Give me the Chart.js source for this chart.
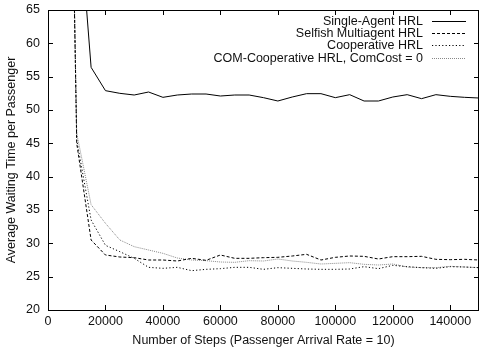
<!DOCTYPE html>
<html><head><meta charset="utf-8">
<script src="https://cdn.jsdelivr.net/npm/chart.js@4.4.1/dist/chart.umd.min.js"></script>
<style>html,body{margin:0;padding:0;background:#fff}#wrap{width:480px;height:354px}</style>
</head><body><div id="wrap"><canvas id="c" width="480" height="354"></canvas></div>
<script>
const steps = [5000,10000,15000,20000,25000,30000,35000,40000,45000,50000,55000,60000,65000,70000,75000,80000,85000,90000,95000,100000,105000,110000,115000,120000,125000,130000,135000,140000,145000,150000];
const singleAgent = [200,84,56.4,52.9,52.5,52.25,52.7,51.9,52.25,52.4,52.4,52.1,52.25,52.25,51.85,51.35,51.95,52.45,52.45,51.85,52.3,51.35,51.35,51.95,52.3,51.7,52.3,52.05,51.9,51.8];
const selfish = [170,45,30.5,28.25,27.95,27.85,27.5,27.5,27.35,27.75,27.45,28.25,27.75,27.75,27.85,27.9,28.1,28.35,27.5,27.9,28.1,28.05,27.65,28.0,28.0,28.05,27.6,27.55,27.6,27.5];
const cooperative = [170,45.5,33.5,29.7,28.75,27.75,26.4,26.25,26.4,25.9,26.1,26.2,26.4,26.4,26.1,26.35,26.25,26.15,26.1,26.1,26.15,26.5,26.2,26.7,26.5,26.35,26.25,26.5,26.45,26.35];
const comCoop = [170,46.5,35.8,33.0,30.5,29.5,29.0,28.5,27.8,27.5,27.4,27.2,27.15,27.4,27.35,27.65,27.35,27.15,26.9,27.0,27.1,26.85,26.75,26.9,26.45,26.35,26.35,26.55,26.45,26.35];
const xTicks = [0,20000,40000,60000,80000,100000,120000,140000];
const yTicks = [20,25,30,35,40,45,50,55,60,65];
const seriesLabels = ["Single-Agent HRL","Selfish Multiagent HRL","Cooperative HRL","COM-Cooperative HRL, ComCost = 0"];
const xTitle = "Number of Steps (Passenger Arrival Rate = 10)";
const yTitle = "Average Waiting Time per Passenger";

const FONT = {family:"'Liberation Sans', Arial, Helvetica, sans-serif", size:12.5};
const styles = [
  {color:'#000', dash:[]},
  {color:'#000', dash:[3,2]},
  {color:'#000', dash:[1.2,2.2]},
  {color:'#888', dash:[1,1]}
];
const allSeries = [singleAgent, selfish, cooperative, comCoop];
const datasets = allSeries.map((arr,i)=>({
  label: seriesLabels[i],
  data: arr.map((v,j)=>({x:steps[j], y:v})),
  borderColor: styles[i].color,
  borderDash: styles[i].dash,
  borderWidth: 1,
  pointRadius: 0,
  tension: 0,
  fill: false
}));

const framePlugin = {
  id:'frame',
  afterDatasetsDraw(chart){
    const {ctx, chartArea:a, scales:{x,y}} = chart;
    ctx.save();
    ctx.strokeStyle='#000'; ctx.lineWidth=1; ctx.setLineDash([]);
    ctx.beginPath();
    ctx.rect(Math.round(a.left)+0.5, Math.round(a.top)+0.5, Math.round(a.right-a.left)-1, Math.round(a.bottom-a.top));
    ctx.stroke();
    const L=5;
    ctx.beginPath();
    x.ticks.forEach(t=>{
      const px=Math.round(x.getPixelForValue(t.value))+0.5;
      ctx.moveTo(px,a.bottom); ctx.lineTo(px,a.bottom-L);
      ctx.moveTo(px,a.top); ctx.lineTo(px,a.top+L);
    });
    y.ticks.forEach(t=>{
      const py=Math.round(y.getPixelForValue(t.value))+0.5;
      ctx.moveTo(a.left,py); ctx.lineTo(a.left+L,py);
      ctx.moveTo(a.right,py); ctx.lineTo(a.right-L,py);
    });
    ctx.stroke();
    // legend
    ctx.font = FONT.size+"px "+FONT.family;
    ctx.fillStyle='#111';
    ctx.textAlign='right'; ctx.textBaseline='middle';
    const rowsY=[20.7,33.1,45.4,57.8];
    chart.data.datasets.forEach((d,i)=>{
      const yy=rowsY[i];
      ctx.fillText(d.label, 423, yy+0.5);
      ctx.beginPath();
      ctx.strokeStyle=d.borderColor; ctx.setLineDash(d.borderDash);
      ctx.moveTo(432, Math.round(yy)+0.5); ctx.lineTo(466, Math.round(yy)+0.5);
      ctx.stroke();
    });
    ctx.restore();
  }
};

new Chart(document.getElementById('c'), {
  type:'line',
  data:{datasets},
  options:{
    responsive:false, animation:false,
    layout:{padding:{top:10,right:1,left:0,bottom:0}},
    plugins:{legend:{display:false}, tooltip:{enabled:false}},
    scales:{
      x:{type:'linear', min:0, max:150000,
        afterBuildTicks(s){ s.ticks = xTicks.map(v=>({value:v})); },
        afterFit(s){ s.height=44; s.paddingLeft=0; s.paddingRight=0; },
        grid:{display:false, drawTicks:false}, border:{display:false},
        ticks:{autoSkip:false, maxRotation:0, minRotation:0, padding:4.5, color:'#111', font:FONT, callback:v=>String(v)},
        title:{display:true, text:xTitle, color:'#111', font:FONT, padding:{top:0,bottom:5.5}}
      },
      y:{type:'linear', min:20, max:65,
        afterBuildTicks(s){ s.ticks = yTicks.map(v=>({value:v})); },
        afterFit(s){ s.width=48; s.paddingTop=0; s.paddingBottom=0; },
        grid:{display:false, drawTicks:false}, border:{display:false},
        ticks:{autoSkip:false, padding:8, color:'#111', font:FONT},
        title:{display:true, text:yTitle, color:'#111', font:FONT, padding:{top:4,bottom:0}}
      }
    }
  },
  plugins:[framePlugin]
});
</script></body></html>
